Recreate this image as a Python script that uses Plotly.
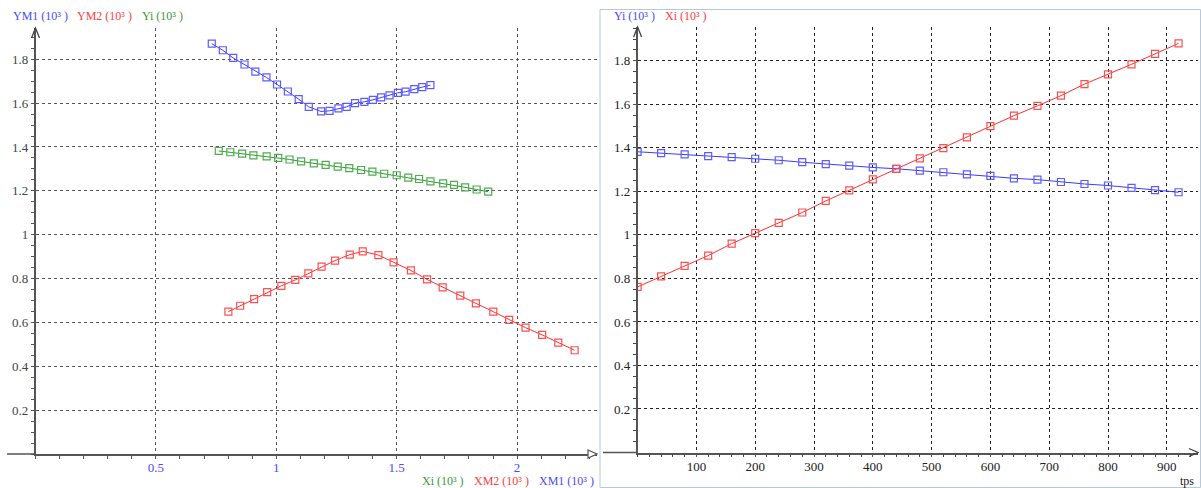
import plotly.graph_objects as go

W, H = 1201, 488

# ---------------- data ----------------
tps = [0, 40, 80, 120, 160, 200, 240, 280, 320, 360, 400, 440, 480, 520,
       560, 600, 640, 680, 720, 760, 800, 840, 880, 920]
xi = [0.761, 0.809, 0.858, 0.905, 0.960, 1.008, 1.055, 1.103, 1.156, 1.205,
      1.255, 1.303, 1.352, 1.399, 1.448, 1.500, 1.548, 1.593, 1.640, 1.693,
      1.738, 1.784, 1.832, 1.880]
yi = [1.382, 1.376, 1.370, 1.362, 1.357, 1.350, 1.343, 1.334, 1.325, 1.318,
      1.310, 1.304, 1.295, 1.288, 1.278, 1.271, 1.260, 1.254, 1.243, 1.234,
      1.227, 1.216, 1.206, 1.196]
xm1 = [0.732, 0.778, 0.821, 0.868, 0.913, 0.959, 1.003, 1.048, 1.093, 1.135,
       1.186, 1.221, 1.258, 1.292, 1.327, 1.366, 1.401, 1.435, 1.470, 1.505,
       1.537, 1.573, 1.606, 1.640]
ym1 = [1.871, 1.841, 1.806, 1.776, 1.744, 1.717, 1.685, 1.653, 1.618, 1.583,
       1.562, 1.565, 1.576, 1.583, 1.600, 1.606, 1.615, 1.626, 1.635, 1.647,
       1.652, 1.664, 1.673, 1.682]
xm2 = [0.801, 0.850, 0.908, 0.962, 1.021, 1.079, 1.133, 1.188, 1.244, 1.305,
       1.359, 1.424, 1.487, 1.559, 1.626, 1.691, 1.764, 1.829, 1.901, 1.967,
       2.035, 2.104, 2.171, 2.239]
ym2 = [0.649, 0.676, 0.706, 0.738, 0.767, 0.794, 0.824, 0.854, 0.882, 0.909,
       0.924, 0.907, 0.874, 0.837, 0.796, 0.760, 0.722, 0.687, 0.649, 0.612,
       0.576, 0.543, 0.508, 0.473]

y_ticks = [0.2, 0.4, 0.6, 0.8, 1.0, 1.2, 1.4, 1.6, 1.8]
y_tick_text = ["0.2", "0.4", "0.6", "0.8", "1", "1.2", "1.4", "1.6", "1.8"]
x1_ticks = [0.5, 1.0, 1.5, 2.0]
x1_tick_text = ["0.5", "1", "1.5", "2"]
x2_ticks = [100, 200, 300, 400, 500, 600, 700, 800, 900]

BLUE, BLUE_M = "#3a3aff", "#5c5cff"
RED, RED_M = "#ff3030", "#ff5050"
GREEN, GREEN_M = "#2f9a2f", "#4cae4c"
FONT = "Liberation Serif"


def px(x):
    return x / W


def py(y):
    return 1 - y / H


fig = go.Figure()


def series(x, y, c, cm, xa, ya):
    fig.add_trace(go.Scatter(
        x=x, y=y, mode="lines+markers", xaxis=xa, yaxis=ya,
        line=dict(color=c, width=1),
        marker=dict(symbol="square-open", size=7, color=cm, line=dict(width=1.2, color=cm)),
        showlegend=False, hoverinfo="x+y"))


series(xm1, ym1, BLUE, BLUE_M, "x", "y")
series(xi, yi, GREEN, GREEN_M, "x", "y")
series(xm2, ym2, RED, RED_M, "x", "y")
series(tps, yi, BLUE, BLUE_M, "x2", "y2")
series(tps, xi, RED, RED_M, "x2", "y2")

# panel geometry (pixels)
L_X0, L_XR, L_Y0, L_YT = 35.5, 597, 454, 28
R_X0, R_XR, R_Y0, R_YT = 637.6, 1198, 452.5, 27

axis_common = dict(showline=True, linecolor="#555", linewidth=1.5, zeroline=False,
                   ticks="outside", ticklen=3, tickcolor="#555", tickwidth=1,
                   griddash="dot", gridwidth=1, fixedrange=True)

fig.update_layout(
    width=W, height=H, margin=dict(l=0, r=0, t=0, b=0), autosize=False,
    paper_bgcolor="white", plot_bgcolor="white",
    xaxis=dict(domain=[px(L_X0), px(L_XR)], range=[0, (L_XR - L_X0) / 240.8],
               tickmode="array", tickvals=x1_ticks, ticktext=x1_tick_text,
               tickfont=dict(family=FONT, size=13, color="#4a4aff"),
               gridcolor="#555", anchor="y", ticklabelstandoff=-2,
               minor=dict(tickmode="linear", tick0=0, dtick=0.1, ticklen=3, tickcolor="#555",
                          showgrid=False),
               **axis_common),
    yaxis=dict(domain=[py(L_Y0), py(L_YT)], range=[0, (L_Y0 - L_YT) / 219.3],
               tickmode="array", tickvals=y_ticks, ticktext=y_tick_text,
               tickfont=dict(family=FONT, size=13, color="#444"),
               gridcolor="#555", anchor="x",
               minor=dict(tickmode="linear", tick0=0, dtick=0.05, ticklen=3, tickcolor="#555",
                          showgrid=False),
               **axis_common),
    xaxis2=dict(domain=[px(R_X0), px(R_XR)], range=[0, (R_XR - R_X0) / 0.588],
                tickmode="array", tickvals=x2_ticks,
                tickfont=dict(family=FONT, size=13, color="#222"),
                gridcolor="#222", anchor="y2", ticklabelstandoff=-2,
                minor=dict(tickmode="linear", tick0=0, dtick=20, ticklen=3, tickcolor="#444",
                           showgrid=False),
                **axis_common),
    yaxis2=dict(domain=[py(R_Y0), py(R_YT)], range=[0, (R_Y0 - R_YT) / 217.6],
                tickmode="array", tickvals=y_ticks, ticktext=y_tick_text,
                tickfont=dict(family=FONT, size=13, color="#222"),
                gridcolor="#222", anchor="x2",
                minor=dict(tickmode="linear", tick0=0, dtick=0.05, ticklen=3, tickcolor="#444",
                           showgrid=False),
                **axis_common),
)

shapes = []
# right panel frame
shapes.append(dict(type="rect", xref="paper", yref="paper", x0=px(600), x1=px(1200.5),
                   y0=py(487.5), y1=py(9.5), line=dict(color="#b7c9da", width=1), layer="below"))
# x-axis extensions left of the y-axes
shapes.append(dict(type="line", xref="paper", yref="paper", x0=px(7), x1=px(L_X0),
                   y0=py(L_Y0), y1=py(L_Y0), line=dict(color="#555", width=1.5)))
shapes.append(dict(type="line", xref="paper", yref="paper", x0=px(603), x1=px(R_X0),
                   y0=py(R_Y0), y1=py(R_Y0), line=dict(color="#555", width=1.5)))


def path(points, close=False):
    s = "M " + " L ".join(f"{px(a)},{py(b)}" for a, b in points)
    return s + (" Z" if close else "")


# arrow heads
for (xa, yt) in [(L_X0, L_YT), (R_X0, R_YT)]:
    shapes.append(dict(type="path", xref="paper", yref="paper",
                       path=path([(xa - 4, yt + 10), (xa, yt), (xa + 4, yt + 10)]),
                       line=dict(color="#444", width=1.3)))
shapes.append(dict(type="path", xref="paper", yref="paper",
                   path=path([(L_XR - 9, L_Y0 - 4), (L_XR, L_Y0), (L_XR - 9, L_Y0 + 4)], close=True),
                   fillcolor="white", line=dict(color="#555", width=1.2)))
shapes.append(dict(type="path", xref="paper", yref="paper",
                   path=path([(R_XR - 9, R_Y0 - 4), (R_XR, R_Y0), (R_XR - 9, R_Y0 + 4)]),
                   line=dict(color="#444", width=1.3)))
fig.update_layout(shapes=shapes)

ann = []


def label(text, x, y, color, anchor="left"):
    ann.append(dict(text=text, x=px(x), y=py(y), xref="paper", yref="paper",
                    xanchor=anchor, yanchor="middle", showarrow=False,
                    font=dict(family=FONT, size=12, color=color)))


label("YM1 (10³ )", 11, 16, "#4a4aff")
label("YM2 (10³ )", 75, 16, "#ff4040")
label("Yi (10³ )", 140, 16, "#3a9a3a")
label("Xi (10³ )", 420, 480.5, "#3a9a3a")
label("XM2 (10³ )", 472, 480.5, "#ff4040")
label("XM1 (10³ )", 537, 480.5, "#4a4aff")
label("Yi (10³ )", 612, 16, "#4a4aff")
label("Xi (10³ )", 663, 16, "#ff4040")
label("tps", 1187, 480.5, "#222", anchor="center")
fig.update_layout(annotations=ann)

fig.write_html("out.html", config={"displayModeBar": False},
               post_script="document.body.style.margin='0';document.body.style.overflow='hidden';")
